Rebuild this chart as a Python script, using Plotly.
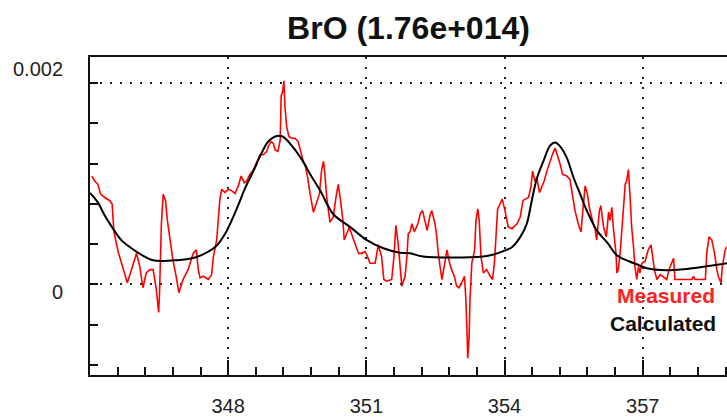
import numpy as np
import plotly.graph_objects as go

# ---------------- data ----------------
title_text = "BrO (1.76e+014)"
x_tick_vals = [348, 351, 354, 357]
x_tick_text = ["348", "351", "354", "357"]
y_label_vals = [0.0, 0.002]
y_label_text = ["0", "0.002"]
legend_names = ["Measured", "Calculated"]

# Calculated (smooth fit), y in units of 1e-4
calc_x = [345.00, 345.17, 345.32, 345.50, 345.68, 345.90, 346.12, 346.37, 346.77, 347.10,
          347.30, 347.57, 347.75, 347.93, 348.08, 348.22, 348.37, 348.55, 348.73, 348.87,
          349.02, 349.18, 349.38, 349.60, 349.80, 350.00, 350.28, 350.65, 351.01, 351.37,
          351.73, 351.95, 352.23, 353.53, 353.78, 354.00, 354.16, 354.34, 354.48, 354.59,
          354.70, 354.84, 354.99, 355.10, 355.21, 355.35, 355.50, 355.64, 355.79, 356.00,
          356.24, 356.44, 356.70, 356.87, 357.09, 357.52, 357.88, 358.39, 358.83]
calc_y_e4 = [9.1, 8.15, 6.85, 5.54, 4.4, 3.6, 2.94, 2.4, 2.38, 2.5,
             2.7, 3.26, 3.85, 5.0, 6.4, 7.9, 9.6, 11.3, 13.1, 14.2,
             14.7, 14.7, 13.8, 12.4, 10.8, 9.3, 7.0, 5.7, 4.4, 3.6,
             3.15, 3.09, 2.77, 2.77, 3.0, 3.36, 3.7, 4.7, 6.0, 8.3,
             10.5, 12.2, 13.8, 14.1, 13.7, 12.6, 10.6, 9.0, 7.3, 5.4,
             4.1, 2.9, 2.3, 2.0, 1.6, 1.4, 1.5, 1.8, 2.1]

# Measured spectrum, y in units of 1e-4
meas_x = [345.04, 345.10, 345.17, 345.23, 345.32, 345.43, 345.48, 345.52, 345.61, 345.68,
          345.81, 345.90, 346.01, 346.08, 346.15, 346.22, 346.30, 346.37, 346.41, 346.44,
          346.49, 346.51, 346.55, 346.59, 346.64, 346.68, 346.73, 346.80, 346.87, 346.93,
          347.02, 347.13, 347.24, 347.31, 347.35,
          347.39, 347.46, 347.57, 347.64, 347.68, 347.75, 347.79, 347.82, 347.86, 347.93,
          348.00, 348.08, 348.15, 348.22, 348.28, 348.35, 348.40, 348.47, 348.55, 348.62,
          348.69, 348.76, 348.84, 348.87, 348.93, 348.98, 349.02, 349.08, 349.13, 349.15,
          349.18, 349.21, 349.23, 349.27, 349.32, 349.38, 349.45, 349.52, 349.58, 349.63,
          349.67, 349.72, 349.78, 349.85, 349.91, 349.98, 350.03, 350.07, 350.10, 350.14,
          350.21, 350.28, 350.34, 350.39, 350.44, 350.49, 350.52, 350.57, 350.63, 350.70,
          350.78, 350.83, 350.90, 350.97, 351.01, 351.08, 351.19, 351.23, 351.26, 351.33,
          351.38, 351.44, 351.55, 351.60, 351.64, 351.69, 351.73, 351.77, 351.84, 351.88,
          351.91, 351.95,
          351.99, 352.04, 352.12, 352.17, 352.22, 352.27, 352.32, 352.38, 352.42, 352.49,
          352.53, 352.56, 352.60, 352.64, 352.69, 352.75, 352.80, 352.85, 352.91, 352.96,
          353.01, 353.07, 353.13, 353.16, 353.19, 353.20, 353.23, 353.25, 353.29, 353.35,
          353.38, 353.42, 353.45, 353.49, 353.54, 353.61, 353.69, 353.74, 353.78, 353.81,
          353.85, 353.90, 353.95, 354.01, 354.08, 354.16, 354.23,
          354.27, 354.34, 354.40, 354.45, 354.52, 354.57, 354.61, 354.66, 354.70, 354.76,
          354.81, 354.86, 354.92, 354.99, 355.05, 355.10, 355.15, 355.21, 355.26, 355.35,
          355.42, 355.48, 355.53, 355.60, 355.66, 355.70, 355.75, 355.80, 355.84, 355.89,
          355.97, 356.00, 356.06, 356.09, 356.15, 356.21, 356.26, 356.29, 356.33, 356.36,
          356.42, 356.44, 356.47,
          356.51, 356.55, 356.58, 356.62, 356.65, 356.69, 356.73, 356.76, 356.80, 356.83,
          356.87, 356.91, 356.94, 356.98, 357.05, 357.12, 357.18, 357.22, 357.26, 357.31,
          357.38, 357.52, 357.57, 357.67, 357.70, 358.07, 358.10, 358.14, 358.36, 358.39,
          358.44, 358.50, 358.56, 358.61, 358.64, 358.70, 358.73, 358.79, 358.83]
meas_y_e4 = [10.77, 10.28, 9.95, 8.97, 8.64, 8.32, 7.99, 5.22, 3.26, 2.11,
             0.16, 1.47, 3.09, 1.79, -0.33, 1.14, 1.47, 1.47, 0.32, -0.49,
             -2.78, -0.82, 6.03, 8.97, 8.32, 6.36, 4.73, 2.45, 0.81, -0.82,
             0.49, 1.47, 3.09, 3.43, 1.47,
             0.65, 0.81, 0.49, 0.98, 2.77, 4.41, 6.69, 8.48, 9.46, 9.13,
             9.46, 9.30, 9.04, 9.79, 10.77, 10.11, 10.28, 10.93, 11.41, 12.07,
             12.88, 12.88, 13.22, 13.71, 14.19, 14.03, 13.37, 13.22, 14.35, 18.76,
             19.09, 20.23, 17.78, 15.66, 14.68, 14.52, 14.52, 14.19, 13.22, 12.24,
             11.90, 10.77, 8.97, 7.18, 7.99, 8.97, 11.41, 12.24, 10.93, 8.64,
             6.20, 6.69, 8.64, 9.95, 8.32, 6.36, 4.41, 5.05, 5.71, 4.73,
             3.75, 3.09, 3.09, 3.26, 2.94, 2.11, 2.11, 3.09, 3.92, 2.77,
             0.49, 0.32, 0.49, 2.77, 5.87, 4.07, 1.79, -0.17, 0.81, 2.77,
             5.05, 5.22,
             6.03, 5.22, 6.03, 7.01, 7.34, 6.36, 5.38, 6.85, 7.34, 6.03,
             4.73, 3.09, 1.79, 0.49, 1.79, 3.43, 2.28, 1.47, 0.81, -0.17,
             -0.33, 0.16, 0.81, -1.47, -5.38, -7.34, -5.38, -1.47, 2.11, 3.43,
             6.36, 7.50, 6.36, 2.77, 1.14, 1.47, 0.81, 0.49, 2.11, 5.05,
             7.50, 7.99, 8.48, 7.34, 5.71, 5.54, 5.87,
             6.03, 6.69, 8.32, 8.48, 8.64, 9.62, 11.26, 10.28, 10.60, 9.13,
             9.62, 10.28, 11.26, 12.24, 13.05, 13.54, 12.88, 11.90, 10.93, 10.77,
             10.44, 8.64, 7.34, 6.03, 5.22, 7.34, 9.79, 8.97, 7.67, 6.69,
             5.38, 4.41, 7.34, 7.83, 5.71, 4.73, 7.18, 6.36, 7.67, 5.71,
             3.09, 1.14, 1.5,
             3.09, 5.71, 7.67, 9.95, 10.28, 11.41, 8.32, 5.71, 3.75, 1.79,
             0.49, 1.79, 1.14, 2.11, 2.28, 3.43, 3.92, 2.77, 1.30, 0.49,
             0.98, 0.49, 1.47, 2.60, 0.49, 0.49, 0.81, 0.49, 0.49, 3.09,
             4.73, 4.41, 3.09, 1.47, 0.81, 0.16, 1.79, 3.43, 3.75]

x_range = [345.0, 358.83]
y_range = [-0.0009, 0.00226]

# unit conversion (values were read in 1e-4)
calc_y = np.array(calc_y_e4) * 1e-4
meas_y = np.array(meas_y_e4) * 1e-4

FONT = "Liberation Sans, Arial, sans-serif"

fig = go.Figure()
fig.add_trace(go.Scatter(x=meas_x, y=meas_y, mode="lines", name=legend_names[0],
                         line=dict(color="#ff0000", width=1.6)))
fig.add_trace(go.Scatter(x=calc_x, y=calc_y, mode="lines", name=legend_names[1],
                         line=dict(color="#000000", width=2), line_shape="spline"))

fig.update_layout(
    width=727, height=417,
    margin=dict(l=90, r=0, t=57, b=37),
    paper_bgcolor="white", plot_bgcolor="white",
    showlegend=False,
    title=dict(text=title_text, x=0.5, xref="paper", xanchor="center",
               y=1 - 28 / 417, yref="container", yanchor="middle",
               font=dict(family=FONT, size=32, color="#111111", weight="bold")),
    font=dict(family=FONT, size=20, color="#222222"),
)

fig.update_xaxes(
    range=x_range, tickmode="array", tickvals=x_tick_vals, ticktext=x_tick_text,
    showline=True, linecolor="#111111", linewidth=2, mirror=True,
    ticks="inside", ticklen=15, tickwidth=2, tickcolor="#111111",
    ticklabelstandoff=12,
    tickfont=dict(family=FONT, size=20, color="#222222"),
    showgrid=True, gridcolor="#222222", gridwidth=1.5, griddash="1.5px,8.5px",
    minor=dict(ticks="inside", ticklen=8, tickwidth=2, tickcolor="#111111",
               tick0=348, dtick=0.6, showgrid=False),
    zeroline=False,
)
fig.update_yaxes(
    range=y_range, tickmode="array", tickvals=y_label_vals, ticktext=["", ""],
    showticklabels=False,
    showline=True, linecolor="#111111", linewidth=2, mirror=False,
    ticks="outside", ticklen=12, tickwidth=2, tickcolor="#111111",
    showgrid=True, gridcolor="#222222", gridwidth=1.5, griddash="1.5px,8.5px",
    minor=dict(ticks="inside", ticklen=8, tickwidth=2, tickcolor="#111111",
               tick0=0, dtick=0.0004, showgrid=False),
    zeroline=False,
)

# y tick labels (placed as text annotations on the y scale)
yshifts = [-8, 14]
for val, txt, ys in zip(y_label_vals, y_label_text, yshifts):
    fig.add_annotation(x=0, xref="paper", y=val, yref="y", text=txt, showarrow=False,
                       xanchor="right", yanchor="middle", xshift=-25, yshift=ys,
                       font=dict(family=FONT, size=20, color="#222222"))

# legend texts
fig.add_annotation(x=(717 - 90) / 637, xref="paper", y=(380 - 299) / 323, yref="paper",
                   text=legend_names[0], showarrow=False, xanchor="right", yanchor="middle",
                   font=dict(family=FONT, size=21, color="#ff2020", weight="bold"))
fig.add_annotation(x=(718 - 90) / 637, xref="paper", y=(380 - 328) / 323, yref="paper",
                   text=legend_names[1], showarrow=False, xanchor="right", yanchor="middle",
                   font=dict(family=FONT, size=21, color="#111111", weight="bold"))

fig.write_html(
    "out.html",
    config={"displayModeBar": False},
    post_script="document.body.style.margin='0';document.body.style.overflow='hidden';",
)
